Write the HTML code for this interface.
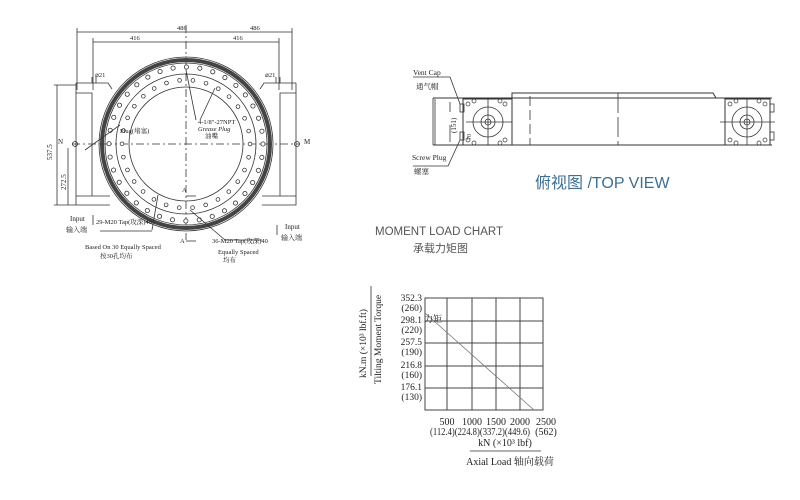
<!DOCTYPE html>
<html><head><meta charset="utf-8"><style>
html,body{margin:0;padding:0;background:#fff;}
svg{display:block;}
text{font-family:"Liberation Serif","Noto Serif CJK SC",serif;fill:#222;}
.s{font-family:"Liberation Sans","Noto Sans CJK SC",sans-serif;}
</style></head><body>
<svg width="800" height="500" viewBox="0 0 800 500" xmlns="http://www.w3.org/2000/svg">
<g stroke="#333" fill="none" stroke-width="0.8">
<line x1="77" y1="32" x2="292" y2="32"/>
<line x1="93" y1="42" x2="279" y2="42"/>
<line x1="77" y1="28" x2="77" y2="90"/><line x1="292" y1="28" x2="292" y2="90"/>
<line x1="93" y1="38" x2="93" y2="90"/><line x1="279" y1="38" x2="279" y2="90"/>
<line x1="186" y1="25" x2="186" y2="240" stroke-dasharray="8 3 2 3"/>
<line x1="72" y1="144" x2="300" y2="144" stroke-dasharray="8 3 2 3"/>
<path d="M76 83 H108 L112 89 M76 83 V205 H110 M76 93 H92 V196 M76 196 H110"/>
<path d="M296 83 H264 L260 89 M296 83 V205 H262 M296 93 H280 V196 M296 196 H262"/>
<path d="M92 77 V83 M96 77 V83 M276 77 V83 M280 77 V83"/>
<line x1="57" y1="85" x2="57" y2="205"/><line x1="54" y1="85" x2="76" y2="85"/>
<line x1="68" y1="148" x2="68" y2="205"/><line x1="54" y1="205" x2="76" y2="205"/>
<circle cx="75" cy="144" r="2.5"/><circle cx="297" cy="144" r="2.5"/>
<circle cx="186" cy="144" r="87"/>
<circle cx="186" cy="144" r="84" stroke="#444" stroke-width="4"/>
<circle cx="186" cy="144" r="81"/>
<circle cx="186" cy="144" r="70"/>
<circle cx="186" cy="144" r="57"/>
<circle cx="186" cy="144" r="77" stroke="#333" stroke-width="5" stroke-dasharray="0.01 13.44" stroke-linecap="round"/>
<circle cx="186" cy="144" r="77" stroke="#fff" stroke-width="3.4" stroke-dasharray="0.01 13.44" stroke-linecap="round"/>
<circle cx="186" cy="144" r="64" stroke="#333" stroke-width="4.5" stroke-dasharray="0.01 13.4" stroke-linecap="round"/>
<circle cx="186" cy="144" r="64" stroke="#fff" stroke-width="3" stroke-dasharray="0.01 13.4" stroke-linecap="round"/>
<line x1="186" y1="70" x2="196" y2="120"/><line x1="215" y1="88" x2="200" y2="120"/>
<line x1="120" y1="125" x2="85" y2="150" />
<line x1="158" y1="195" x2="152" y2="230"/><line x1="100" y1="231" x2="152" y2="231"/>
<line x1="190" y1="210" x2="225" y2="240"/><line x1="225" y1="240" x2="262" y2="240"/>
<line x1="186" y1="196" x2="196" y2="196"/><line x1="186" y1="241" x2="196" y2="241"/>
<line x1="93" y1="215" x2="93" y2="225"/><line x1="277" y1="225" x2="277" y2="235"/>
<g stroke-width="1">
<path d="M433 98 H772 M433 145 H772 M512 98 V93 H713 L716 98" />
<rect x="463" y="99" width="49" height="46"/>
<rect x="725" y="99" width="45" height="46"/>
</g>
<circle cx="488" cy="122" r="15"/><circle cx="488" cy="122" r="7"/><circle cx="488" cy="122" r="3"/>
<circle cx="747" cy="122" r="15"/><circle cx="747" cy="122" r="7"/><circle cx="747" cy="122" r="3"/>
<line x1="488" y1="99" x2="488" y2="145"/><line x1="466" y1="122" x2="512" y2="122"/>
<line x1="747" y1="99" x2="747" y2="145"/><line x1="720" y1="122" x2="775" y2="122"/>
<line x1="530" y1="96" x2="530" y2="145" stroke-dasharray="10 4"/>
<line x1="618" y1="93" x2="618" y2="145" stroke-dasharray="20 4"/>
<line x1="433" y1="98" x2="433" y2="145"/>
<rect x="460" y="104" width="4" height="8"/><rect x="460" y="132" width="4" height="8"/>
<rect x="770" y="104" width="4" height="8"/><rect x="770" y="132" width="4" height="8"/>
<g stroke-width="0.7">
<circle cx="468" cy="104" r="2"/><circle cx="474" cy="101" r="2"/><circle cx="505" cy="104" r="2"/><circle cx="500" cy="101" r="2"/>
<circle cx="468" cy="140" r="2"/><circle cx="474" cy="143" r="2"/><circle cx="505" cy="140" r="2"/><circle cx="500" cy="143" r="2"/>
<circle cx="730" cy="104" r="2"/><circle cx="736" cy="101" r="2"/><circle cx="765" cy="104" r="2"/><circle cx="759" cy="101" r="2"/>
<circle cx="730" cy="140" r="2"/><circle cx="736" cy="143" r="2"/><circle cx="765" cy="140" r="2"/><circle cx="759" cy="143" r="2"/>
</g>
<line x1="435" y1="99" x2="435" y2="145"/><line x1="450" y1="102" x2="450" y2="112"/><line x1="450" y1="125" x2="450" y2="142"/>
<path d="M413 77 H450 L460 104 M413 166 H448 L460 140"/>
<g stroke="#444" stroke-width="1">
<rect x="425" y="298" width="118" height="112"/>
<line x1="447" y1="298" x2="447" y2="410"/><line x1="472" y1="298" x2="472" y2="410"/>
<line x1="496" y1="298" x2="496" y2="410"/><line x1="520" y1="298" x2="520" y2="410"/>
<line x1="425" y1="321" x2="543" y2="321"/><line x1="425" y1="343" x2="543" y2="343"/>
<line x1="425" y1="366" x2="543" y2="366"/><line x1="425" y1="388" x2="543" y2="388"/>
</g>
<line x1="425" y1="313" x2="534" y2="410" stroke="#777"/>
<line x1="371" y1="286" x2="371" y2="376"/>
<line x1="470" y1="451" x2="541" y2="451"/>
</g>
<g font-size="6.5">
<text x="177" y="30">486</text><text x="250" y="30">486</text>
<text x="130" y="40">416</text><text x="233" y="40">416</text>
<text x="95" y="77">⌀21</text><text x="265" y="77">⌀21</text>
<text x="120" y="133">Plug(堵塞)</text>
<text x="198" y="124">4-1/8"-27NPT</text><text x="198" y="131" font-style="italic">Grease Plug</text><text x="205" y="138">油嘴</text>
<text x="58" y="144" font-size="7">N</text><text x="304" y="144" font-size="7">M</text>
<text x="96" y="224">29-M20 Tap(攻深)40</text>
<text x="85" y="249">Based On 30 Equally Spaced</text><text x="100" y="258">按30孔均布</text>
<text x="212" y="243">36-M20 Tap(攻深)40</text>
<text x="218" y="254">Equally Spaced</text><text x="223" y="262">均布</text>
<text x="182" y="192">A</text><text x="180" y="243">A</text>
<text x="70" y="221" font-size="7">Input</text><text x="66" y="232" font-size="7">输入端</text>
<text x="285" y="229" font-size="7">Input</text><text x="281" y="240" font-size="7">输入端</text>
<text x="413" y="75" font-size="7.5">Vent Cap</text><text x="416" y="89" font-size="7.5">通气帽</text>
<text x="412" y="160" font-size="7.5">Screw Plug</text><text x="414" y="174" font-size="7.5">螺塞</text>
</g>
<text transform="translate(52,160) rotate(-90)" font-size="7">537.5</text>
<text transform="translate(66,190) rotate(-90)" font-size="7">272.5</text>
<text transform="translate(456,133) rotate(-90)" font-size="7">(151)</text>
<text transform="translate(471,140) rotate(-90)" font-size="6">70</text>
<text x="535" y="188" class="s" font-size="16" style="fill:#3e6f94">俯视图 /TOP VIEW</text>
<text x="375" y="235" class="s" font-size="11.5" style="fill:#555">MOMENT LOAD CHART</text>
<text x="413" y="252" class="s" font-size="11" style="fill:#555">承载力矩图</text>
<g font-size="9.5" text-anchor="end">
<text x="422" y="301">352.3</text><text x="422" y="311">(260)</text>
<text x="422" y="323">298.1</text><text x="422" y="333">(220)</text>
<text x="422" y="345">257.5</text><text x="422" y="355">(190)</text>
<text x="422" y="368">216.8</text><text x="422" y="378">(160)</text>
<text x="422" y="390">176.1</text><text x="422" y="400">(130)</text>
</g>
<text x="424" y="322" font-size="9">力矩</text>
<g font-size="10" text-anchor="middle">
<text x="447" y="425">500</text><text x="472" y="425">1000</text><text x="496" y="425">1500</text><text x="520" y="425">2000</text><text x="546" y="425">2500</text>
</g>
<text x="430" y="435" font-size="10" textLength="100" lengthAdjust="spacingAndGlyphs">(112.4)(224.8)(337.2)(449.6)</text>
<text x="546" y="435" font-size="10" text-anchor="middle">(562)</text>
<text x="505" y="446" font-size="10" text-anchor="middle">kN (×10³ lbf)</text>
<text x="510" y="465" font-size="10" text-anchor="middle">Axial Load 轴向载荷</text>
<text transform="translate(366,378) rotate(-90)" font-size="9.5">kN.m (×10³ lbf.ft)</text>
<text transform="translate(381,384) rotate(-90)" font-size="9.5">Tilting Moment Torque</text>
</svg>
</body></html>
